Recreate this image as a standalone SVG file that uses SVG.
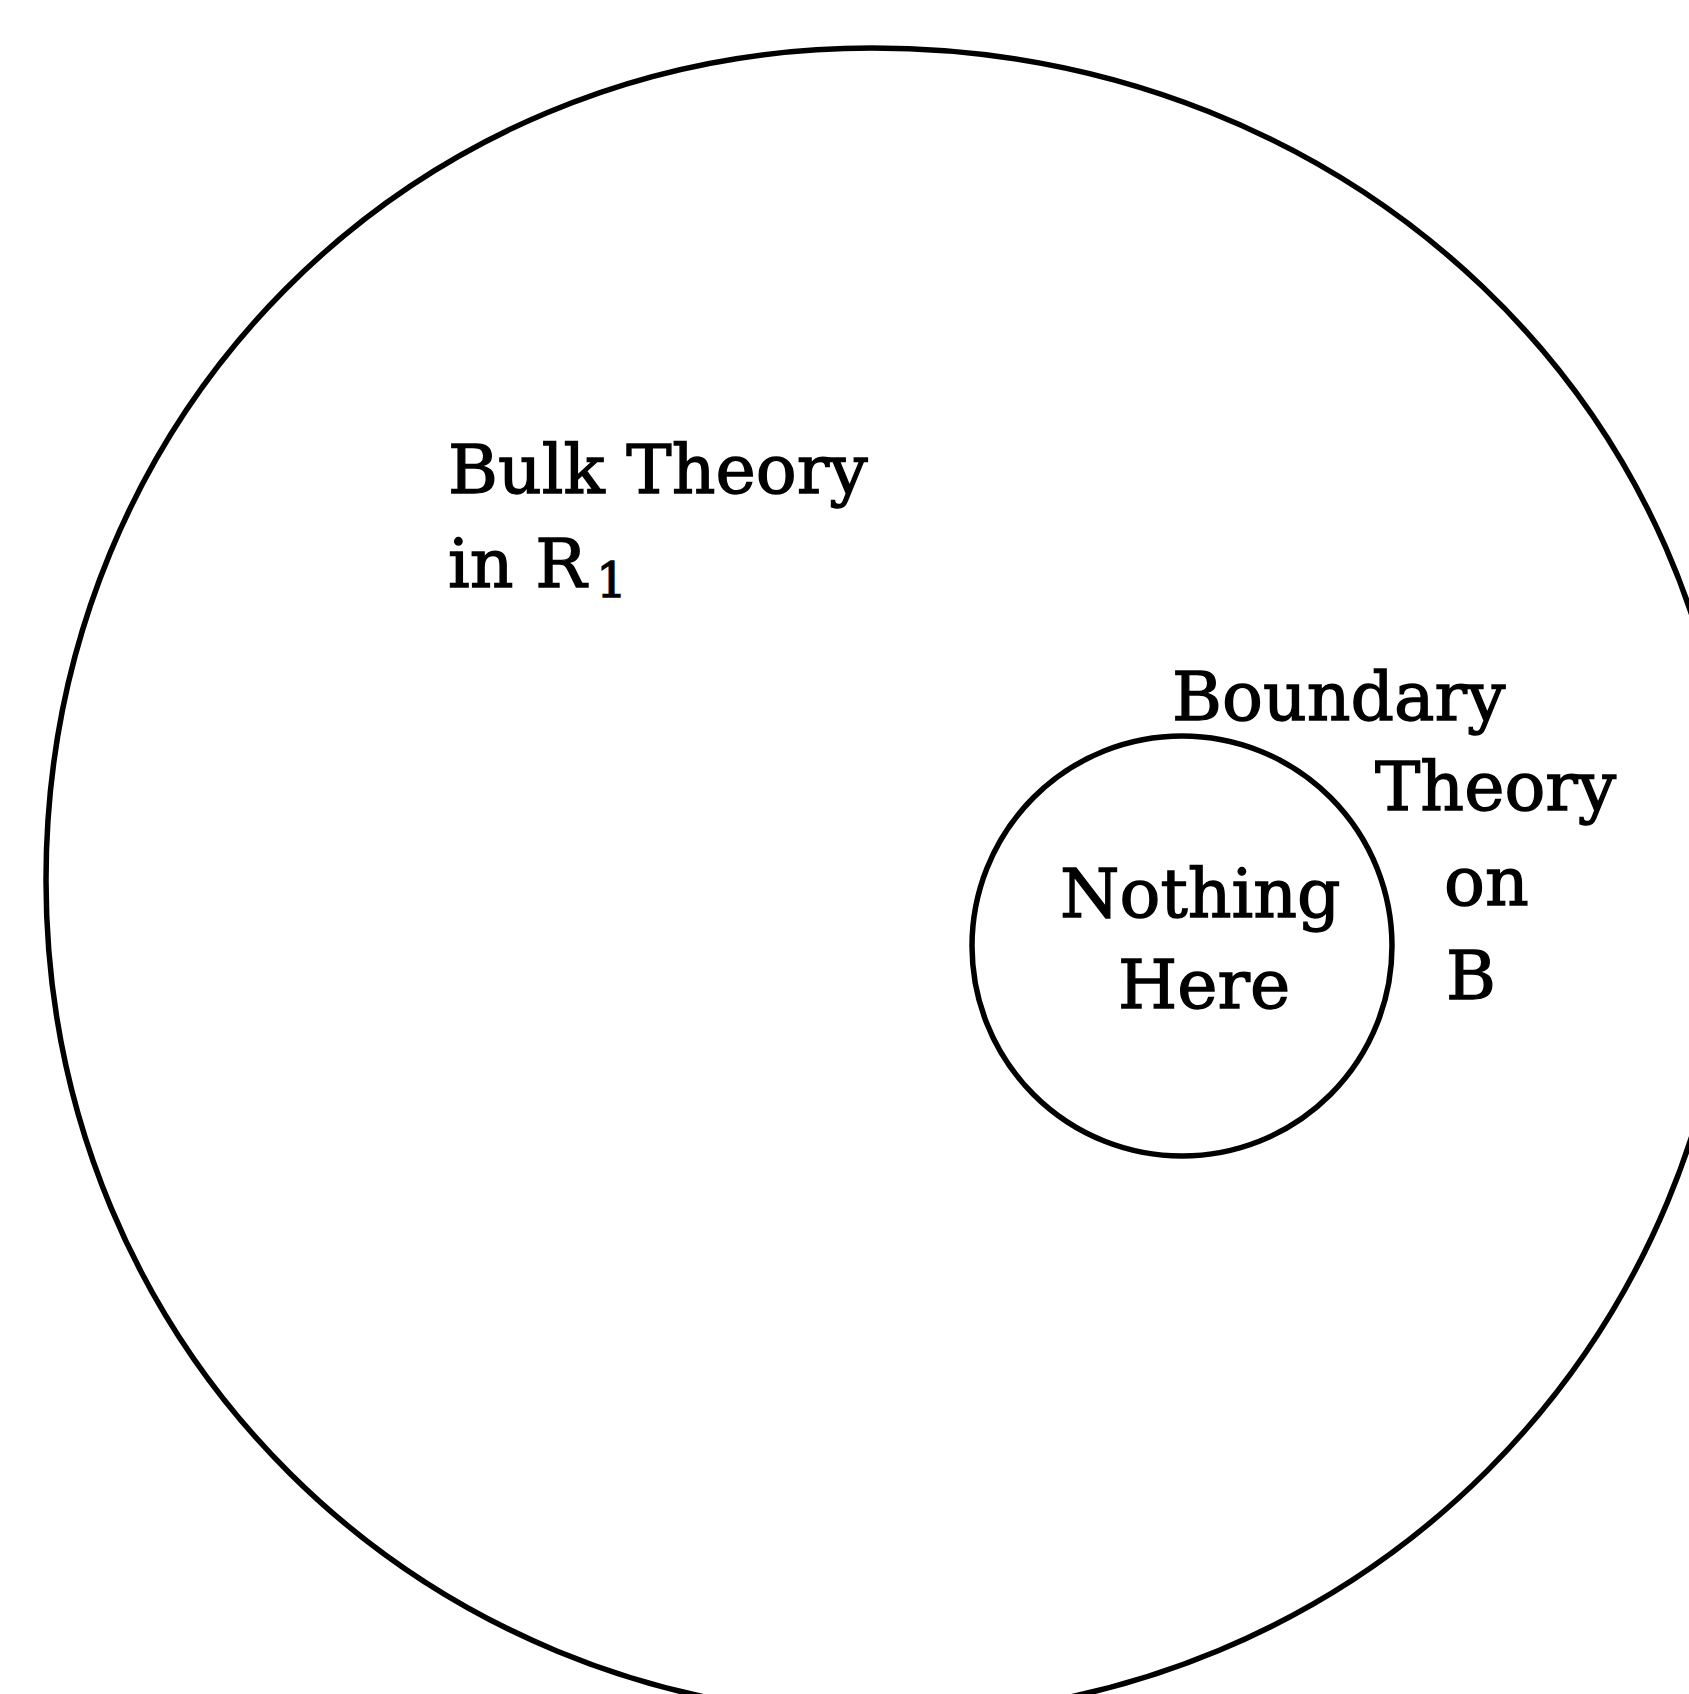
<svg xmlns="http://www.w3.org/2000/svg" width="1689" height="1694" viewBox="0 0 1689 1694">
  <style>
    .line { fill: none; stroke: #000; stroke-width: 5.5; }
    .lbl { font-family: "DejaVu Serif", "Liberation Serif", serif; font-size: 68px; fill: #000; stroke: #000; stroke-width: 1.3; }
  </style>
  <rect width="1689" height="1694" fill="#fff"/>
  <g id="bulk-region">
    <path class="line" d="M 46 880 C 46 414, 409 48, 872 48 C 1352 48, 1733 410, 1733 871 C 1733 1344, 1359 1716, 888 1716 C 416 1716, 46 1348, 46 880 Z"/>
    <text class="lbl" x="448" y="493">Bulk Theory</text>
    <text class="lbl" x="448" y="587">in R<tspan font-size="48" dx="10" dy="10">1</tspan></text>
  </g>
  <g id="boundary-B">
    <circle class="line" cx="1182" cy="946" r="210"/>
    <text class="lbl" x="1060" y="917">Nothing</text>
    <text class="lbl" x="1118" y="1008">Here</text>
  </g>
  <g id="boundary-label">
    <text class="lbl" x="1172" y="720">Boundary</text>
    <text class="lbl" x="1375" y="810">Theory</text>
    <text class="lbl" x="1444" y="905">on</text>
    <text class="lbl" x="1446" y="999">B</text>
  </g>
  <g id="connectors"/>
</svg>
